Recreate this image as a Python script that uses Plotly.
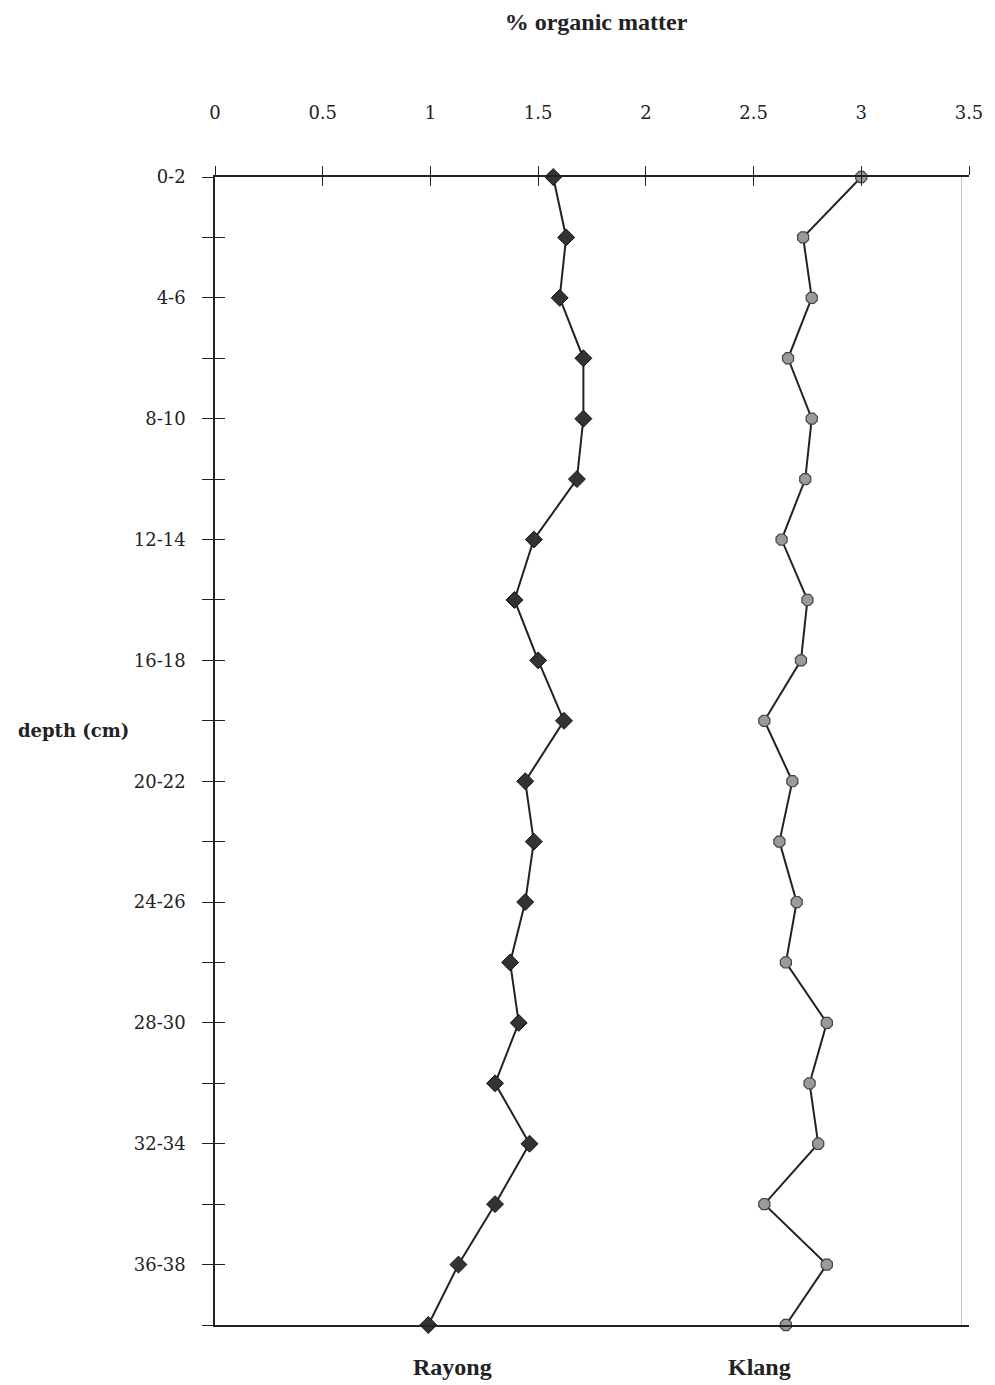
import plotly.graph_objects as go

depths = ["0-2", "2-4", "4-6", "6-8", "8-10", "10-12", "12-14", "14-16", "16-18", "18-20",
          "20-22", "22-24", "24-26", "26-28", "28-30", "30-32", "32-34", "34-36", "36-38", "38-40"]
rayong = [1.57, 1.63, 1.60, 1.71, 1.71, 1.68, 1.48, 1.39, 1.50, 1.62,
          1.44, 1.48, 1.44, 1.37, 1.41, 1.30, 1.46, 1.30, 1.13, 0.99]
klang = [3.00, 2.73, 2.77, 2.66, 2.77, 2.74, 2.63, 2.75, 2.72, 2.55,
         2.68, 2.62, 2.70, 2.65, 2.84, 2.76, 2.80, 2.55, 2.84, 2.65]
x_ticks = [0, 0.5, 1, 1.5, 2, 2.5, 3, 3.5]
y_ticktext = [d if i % 2 == 0 else "" for i, d in enumerate(depths)]

SERIF = "Liberation Serif"
TICKF = "DejaVu Serif"
INK = "#222222"

fig = go.Figure()
fig.add_trace(go.Scatter(
    x=rayong, y=depths, mode="lines+markers", name="Rayong", cliponaxis=False,
    line=dict(color=INK, width=2),
    marker=dict(symbol="diamond", size=13, color="#333333", line=dict(color="#111111", width=1)),
    xaxis="x", yaxis="y"))
fig.add_trace(go.Scatter(
    x=klang, y=depths, mode="lines+markers", name="Klang", cliponaxis=False,
    line=dict(color=INK, width=2),
    marker=dict(symbol="octagon", size=12, color="#9a9a9a", line=dict(color="#444444", width=1.2)),
    xaxis="x2", yaxis="y2"))

common_y = dict(type="category", categoryorder="array", categoryarray=depths,
                range=[19, 0], tickmode="array", tickvals=depths)
fig.update_layout(
    width=995, height=1385,
    margin=dict(l=215, r=23, t=177, b=60),
    paper_bgcolor="white", plot_bgcolor="white",
    showlegend=False,
    font=dict(family=SERIF, color=INK, size=18),
    title=dict(text="<b>% organic matter</b>", x=596/995, xanchor="center",
               y=1 - 22/1385, yanchor="middle", font=dict(family=SERIF, size=24, color=INK)),
    xaxis=dict(range=[0, 3.5], side="top", tickmode="array", tickvals=x_ticks,
               ticktext=[f"{v:g}" for v in x_ticks],
               ticks="outside", ticklen=9, tickcolor=INK, tickwidth=1,
               ticklabelstandoff=40,
               showline=True, linecolor=INK, linewidth=1.5, mirror=True,
               showgrid=False, zeroline=False,
               tickfont=dict(family=TICKF, size=18, color=INK)),
    xaxis2=dict(range=[0, 3.5], side="top", overlaying="x", tickmode="array", tickvals=x_ticks,
                ticks="inside", ticklen=9, tickcolor=INK, tickwidth=1,
                showticklabels=False, showline=False, showgrid=False, zeroline=False),
    yaxis=dict(**common_y, ticktext=y_ticktext,
               ticks="outside", ticklen=11, tickcolor=INK, tickwidth=1,
               ticklabelstandoff=13,
               showline=True, linecolor=INK, linewidth=1.5,
               showgrid=False, zeroline=False,
               tickfont=dict(family=TICKF, size=18, color=INK)),
    yaxis2=dict(**common_y, overlaying="y", side="left", ticktext=[""] * len(depths),
                ticks="inside", ticklen=10, tickcolor=INK, tickwidth=1,
                showticklabels=False, showline=False, showgrid=False, zeroline=False),
)

fig.add_shape(type="line", xref="x domain", yref="y domain", x0=0.99, x1=0.99, y0=0, y1=1,
              line=dict(color="#c4c4c4", width=1))

fig.add_annotation(text="<b>depth (cm)</b>", xref="paper", yref="paper",
                   x=(73 - 215) / 757, y=(1325 - 730) / 1148, showarrow=False,
                   xanchor="center", yanchor="middle", font=dict(family=TICKF, size=18, color=INK))
fig.add_annotation(text="<b>Rayong</b>", xref="paper", yref="paper",
                   x=(453 - 215) / 757, y=(1325 - 1367) / 1148, showarrow=False,
                   xanchor="center", yanchor="middle", font=dict(family=SERIF, size=24, color=INK))
fig.add_annotation(text="<b>Klang</b>", xref="paper", yref="paper",
                   x=(762 - 215) / 757, y=(1325 - 1367) / 1148, showarrow=False,
                   xanchor="center", yanchor="middle", font=dict(family=SERIF, size=24, color=INK))

fig.write_html("out.html")
